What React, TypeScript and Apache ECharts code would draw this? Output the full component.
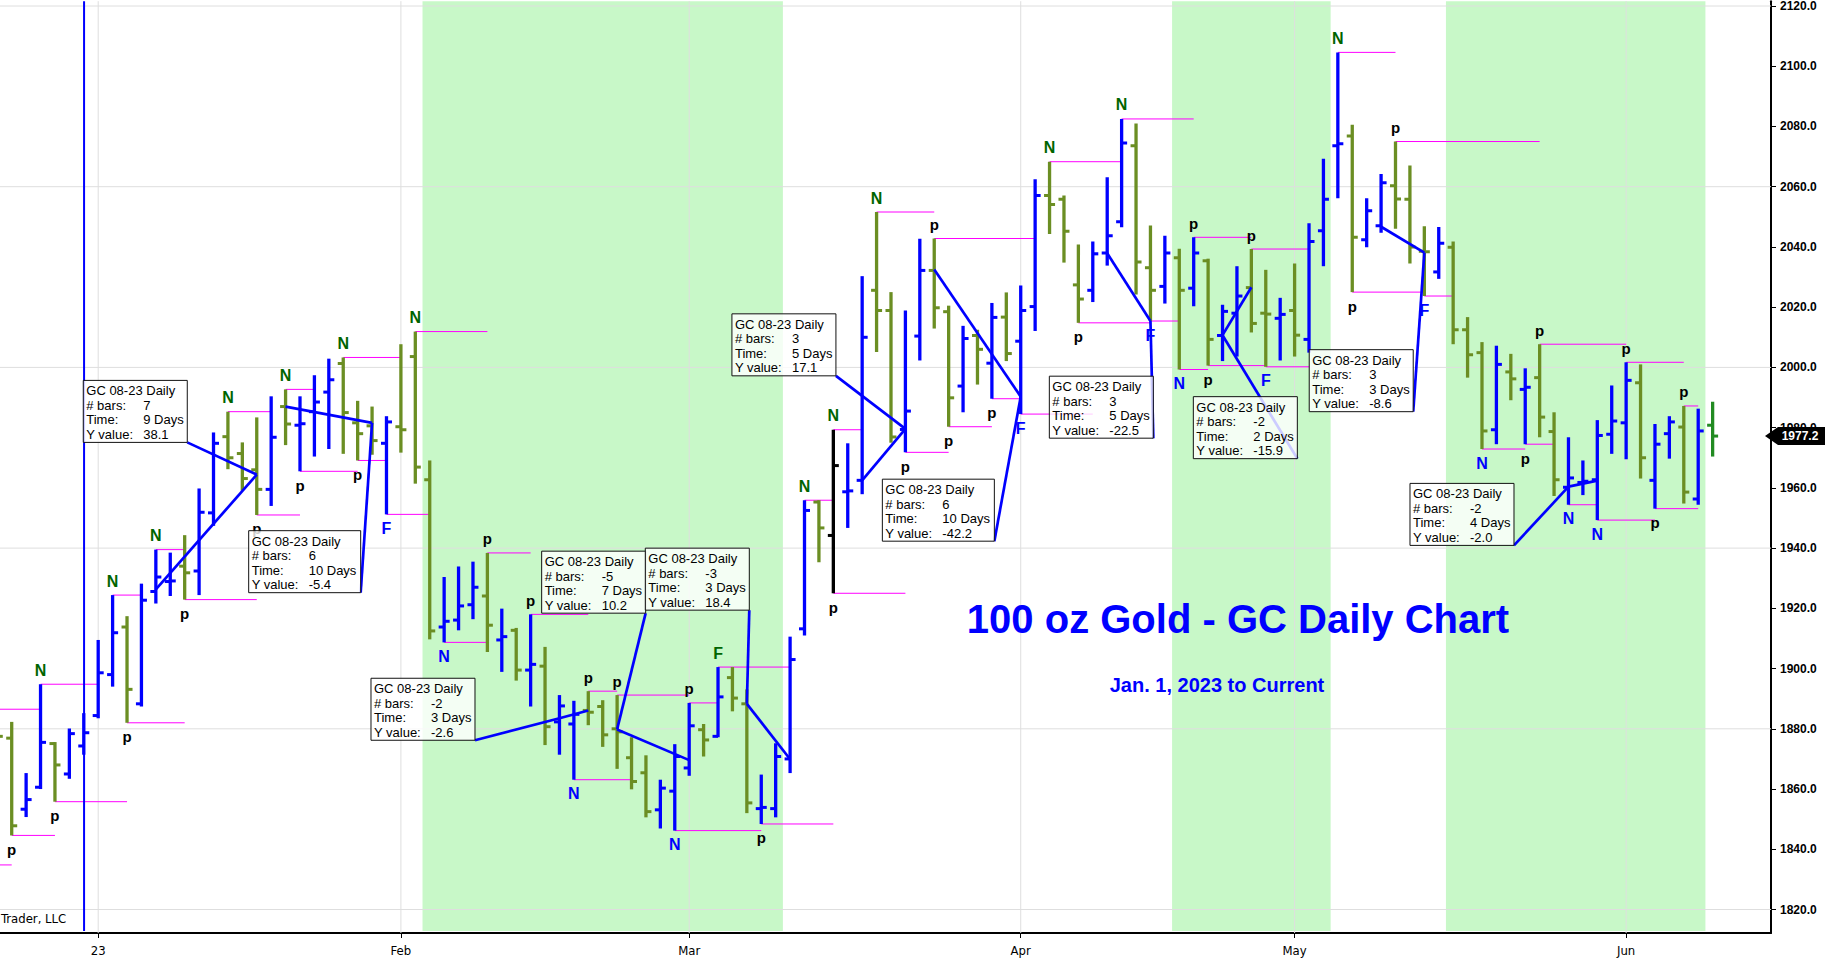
import React, { useEffect, useRef } from 'react';
import * as echarts from 'echarts';

// ---------- DATA ----------
const dates = [
  '2022-12-21', '2022-12-22', '2022-12-23', '2022-12-27', '2022-12-28', '2022-12-29', '2022-12-30',
  '2023-01-03', '2023-01-04', '2023-01-05', '2023-01-06', '2023-01-09', '2023-01-10', '2023-01-11', '2023-01-12', '2023-01-13',
  '2023-01-16', '2023-01-17', '2023-01-18', '2023-01-19', '2023-01-20', '2023-01-23', '2023-01-24', '2023-01-25', '2023-01-26',
  '2023-01-27', '2023-01-30', '2023-01-31',
  '2023-02-01', '2023-02-02', '2023-02-03', '2023-02-06', '2023-02-07', '2023-02-08', '2023-02-09', '2023-02-10', '2023-02-13',
  '2023-02-14', '2023-02-15', '2023-02-16', '2023-02-17', '2023-02-20', '2023-02-21', '2023-02-22', '2023-02-23', '2023-02-24',
  '2023-02-27', '2023-02-28',
  '2023-03-01', '2023-03-02', '2023-03-03', '2023-03-06', '2023-03-07', '2023-03-08', '2023-03-09', '2023-03-10', '2023-03-13',
  '2023-03-14', '2023-03-15', '2023-03-16', '2023-03-17', '2023-03-20', '2023-03-21', '2023-03-22', '2023-03-23', '2023-03-24',
  '2023-03-27', '2023-03-28', '2023-03-29', '2023-03-30', '2023-03-31',
  '2023-04-03', '2023-04-04', '2023-04-05', '2023-04-06', '2023-04-10', '2023-04-11', '2023-04-12', '2023-04-13', '2023-04-14',
  '2023-04-17', '2023-04-18', '2023-04-19', '2023-04-20', '2023-04-21', '2023-04-24', '2023-04-25', '2023-04-26', '2023-04-27',
  '2023-04-28',
  '2023-05-01', '2023-05-02', '2023-05-03', '2023-05-04', '2023-05-05', '2023-05-08', '2023-05-09', '2023-05-10', '2023-05-11',
  '2023-05-12', '2023-05-15', '2023-05-16', '2023-05-17', '2023-05-18', '2023-05-19', '2023-05-22', '2023-05-23', '2023-05-24',
  '2023-05-25', '2023-05-26', '2023-05-29', '2023-05-30', '2023-05-31',
  '2023-06-01', '2023-06-02', '2023-06-05', '2023-06-06', '2023-06-07', '2023-06-08', '2023-06-09',
];

const opens = [
  1880.0,
  1876.9, 1853.3, 1860.6, 1875.1, 1865.0, 1874.3, 1884.4, 1898.0, 1913.8, 1888.3,
  1925.6, 1928.9, 1934.0, 1932.4, 1951.7, 1977.0, 1971.4, 1966.0, 1959.5, 1987.0,
  1980.8, 1985.3, 1991.8, 2001.3, 1981.6, 1980.6, 1974.8, 1980.3, 2003.6, 1962.7,
  1913.8, 1916.1, 1921.2, 1924.1, 1909.5, 1912.7, 1899.5, 1900.8, 1882.3, 1881.6,
  1886.1, 1887.4, 1880.0, 1870.4, 1865.4, 1853.1, 1859.3, 1867.0, 1879.7, 1877.5,
  1897.0, 1888.3, 1853.5, 1853.5, 1870.0, 1913.2, 1955.3, 1944.2, 1958.7, 1962.5,
  2025.6, 2018.9, 1979.4, 2010.4, 2032.2, 2018.5, 1993.8, 2010.6, 2001.4, 2016.7,
  2008.7, 2020.2, 2057.1, 2055.8, 2027.4, 2025.6, 2038.0, 2048.4, 2073.6, 2033.1,
  2026.9, 2036.4, 2026.3, 2035.4, 2010.6, 2018.0, 2026.5, 2018.0, 2016.3, 2018.9,
  2009.3, 2045.4, 2073.6, 2076.8, 2042.4, 2047.0, 2060.3, 2055.8, 2038.6, 2031.7,
  2039.9, 2012.5, 2004.9, 1979.3, 1998.5, 1992.7, 1996.6, 1978.7, 1960.2, 1961.8,
  1962.7, 1977.8, 1981.6, 1994.9, 1962.5, 1978.0, 1980.2, 1956.3, 1980.8,
];
const highs = [
  1885.0,
  1882.3, 1865.3, 1894.8, 1875.6, 1880.1, 1885.2, 1909.5, 1924.4, 1917.4, 1928.2,
  1939.5, 1938.5, 1944.3, 1959.8, 1978.4, 1985.3, 1975.1, 1983.4, 1990.4, 1992.7,
  1990.4, 1997.4, 2002.9, 2003.3, 1988.9, 1987.0, 1983.8, 2007.7, 2011.9, 1969.1,
  1930.4, 1933.9, 1935.5, 1938.4, 1919.9, 1913.5, 1918.0, 1907.2, 1891.2, 1889.3,
  1892.5, 1889.5, 1891.2, 1877.2, 1871.2, 1863.1, 1874.9, 1888.6, 1881.6, 1900.5,
  1900.5, 1893.1, 1864.8, 1875.2, 1910.6, 1955.9, 1955.9, 1979.3, 1974.8, 2030.3,
  2051.6, 2025.0, 2018.9, 2042.7, 2042.8, 2020.5, 2013.8, 2012.5, 2021.4, 2024.9,
  2027.2, 2062.5, 2068.3, 2057.1, 2040.8, 2041.8, 2063.1, 2082.5, 2081.0, 2047.1,
  2043.7, 2039.4, 2043.2, 2036.1, 2020.8, 2033.6, 2039.3, 2032.4, 2023.1, 2034.5,
  2047.9, 2069.3, 2104.6, 2080.6, 2056.2, 2064.2, 2075.0, 2067.0, 2046.9, 2046.6,
  2041.8, 2016.7, 2008.4, 2007.2, 2004.5, 1999.7, 2007.7, 1985.1, 1976.8, 1969.1,
  1982.5, 1994.0, 2001.7, 2001.0, 1981.2, 1983.8, 1987.2, 1986.3, 1988.6,
];
const lows = [
  1871.0,
  1844.6, 1850.7, 1860.0, 1855.8, 1863.4, 1871.4, 1883.5, 1894.0, 1882.0, 1887.4,
  1921.6, 1924.1, 1922.9, 1924.4, 1947.4, 1966.2, 1959.1, 1951.0, 1954.0, 1974.2,
  1965.5, 1970.4, 1972.9, 1971.3, 1969.1, 1971.0, 1951.2, 1971.7, 1961.4, 1909.7,
  1908.7, 1912.7, 1916.4, 1905.5, 1898.9, 1896.0, 1887.4, 1874.6, 1871.4, 1863.1,
  1881.2, 1874.0, 1866.7, 1859.9, 1850.6, 1846.9, 1846.2, 1864.4, 1870.8, 1877.2,
  1885.8, 1852.0, 1848.4, 1850.6, 1865.3, 1911.0, 1935.3, 1925.0, 1946.7, 1957.9,
  2005.1, 1975.0, 1971.8, 2002.3, 2012.9, 1980.3, 1985.1, 1994.3, 1989.6, 2002.1,
  1984.5, 2012.1, 2044.3, 2034.8, 2014.8, 2021.7, 2033.8, 2046.5, 2024.2, 2015.4,
  2021.2, 1999.3, 2020.3, 2000.6, 2002.1, 2003.6, 2011.6, 2000.2, 2002.3, 2003.6,
  2004.9, 2033.6, 2056.2, 2025.0, 2039.9, 2044.7, 2046.0, 2034.5, 2023.7, 2029.4,
  2007.7, 1996.6, 1972.9, 1974.5, 1989.1, 1974.5, 1976.8, 1957.3, 1954.4, 1957.6,
  1949.3, 1971.3, 1969.5, 1963.1, 1953.1, 1969.7, 1954.8, 1954.4, 1970.4,
];
const closes = [
  1877.5,
  1847.8, 1856.5, 1875.5, 1868.0, 1878.4, 1878.7, 1898.6, 1911.9, 1893.1, 1922.7,
  1930.4, 1929.1, 1931.8, 1951.9, 1974.8, 1970.0, 1963.1, 1959.5, 1976.8, 1981.2,
  1981.3, 1988.5, 1995.9, 1985.0, 1978.0, 1975.7, 1981.9, 1979.3, 1966.9, 1912.5,
  1915.7, 1920.8, 1927.0, 1914.4, 1910.6, 1899.5, 1901.4, 1880.7, 1887.6, 1884.8,
  1885.5, 1878.0, 1879.0, 1862.5, 1852.5, 1860.3, 1870.8, 1881.0, 1876.3, 1890.6,
  1890.2, 1855.4, 1853.9, 1870.8, 1903.0, 1952.5, 1946.7, 1967.4, 1959.0, 2010.0,
  2018.9, 1976.9, 1985.5, 2032.2, 2019.8, 1989.9, 2009.6, 2006.0, 2016.6, 2004.6,
  2018.9, 2057.1, 2054.1, 2045.2, 2022.7, 2037.7, 2043.7, 2074.5, 2035.0, 2025.6,
  2038.0, 2025.6, 2038.0, 2009.3, 2018.6, 2023.7, 2014.6, 2017.7, 2017.6, 2010.7,
  2041.8, 2055.8, 2074.3, 2043.2, 2052.0, 2061.3, 2055.9, 2040.0, 2038.4, 2041.2,
  2012.5, 2004.2, 1978.9, 2001.0, 1996.2, 1993.4, 1983.5, 1962.7, 1963.3, 1962.2,
  1977.4, 1982.2, 1995.7, 1970.0, 1974.5, 1981.9, 1958.6, 1978.9, 1977.2,
];

// special-colored bars (by date)
const barColorOverrides: Record<string, string> = { '2023-03-15': '#000000', '2023-06-09': '#228B22' };
const lastPrice = 1977.2;

const priceTicks = [1820, 1840, 1860, 1880, 1900, 1920, 1940, 1960, 1980, 2000, 2020, 2040, 2060, 2080, 2100, 2120];
const priceGrid = [1820, 1880, 1940, 2000, 2060, 2120];
const monthNames = ['Jan', 'Feb', 'Mar', 'Apr', 'May', 'Jun', 'Jul', 'Aug', 'Sep', 'Oct', 'Nov', 'Dec'];

// shaded cycle windows [fromBar, toBar]
const shadeRanges = [[29.5, 54.5], [81.5, 92.5], [100.5, 118.5]];
const yearSeparatorIdx = 6.02;

// pivot lines [fromBar, toBar, price]
const pivotLines = [
  [0, 3, 1886.5], [0, 1, 1834.8], [1, 4, 1844.6], [3, 7, 1894.8], [4, 9, 1855.8], [8, 10, 1924.4], [9, 13, 1882.0],
  [11, 13, 1939.5], [13, 18, 1922.9], [16, 19, 1985.3], [18, 21, 1951.0], [20, 22, 1992.7], [21, 25, 1965.5],
  [24, 28, 2003.3], [25, 27, 1969.1], [27, 30, 1951.2], [29, 34, 2011.9], [31, 34, 1908.7], [34, 37, 1938.4],
  [37, 41, 1918.0], [40, 44, 1863.1], [41, 43, 1892.5], [43, 48, 1891.2], [47, 53, 1846.2], [48, 50, 1888.6],
  [50, 55, 1900.5], [53, 58, 1848.4], [56, 58, 1955.9], [58, 60, 1979.3], [58, 63, 1925.0], [61, 65, 2051.6],
  [63, 66, 1971.8], [65, 72, 2042.8], [66, 69, 1980.3], [69, 71, 1989.6], [71, 76, 1984.5], [73, 78, 2068.3],
  [75, 80, 2014.8], [78, 83, 2082.5], [80, 82, 2015.4], [82, 84, 1999.3], [83, 87, 2043.2], [84, 88, 2000.6],
  [87, 91, 2039.3], [88, 91, 2000.2], [93, 97, 2104.6], [94, 99, 2025.0], [97, 107, 2075.0], [99, 101, 2023.7],
  [103, 106, 1972.9], [106, 108, 1974.5], [107, 113, 2007.7], [109, 111, 1954.4], [111, 115, 1949.3],
  [113, 117, 2001.7], [115, 118, 1953.1], [117, 118, 1987.2],
];

// swing markers [bar, label, 't' above high / 'b' below low, color key]
const markers: [number, string, string, string][] = [
  [1, 'p', 'b', 'k'], [3, 'N', 't', 'g'], [4, 'p', 'b', 'k'], [8, 'N', 't', 'g'], [9, 'p', 'b', 'k'], [11, 'N', 't', 'g'],
  [13, 'p', 'b', 'k'], [16, 'N', 't', 'g'], [18, 'p', 'b', 'k'], [20, 'N', 't', 'g'], [21, 'p', 'b', 'k'], [24, 'N', 't', 'g'],
  [25, 'p', 'b', 'k'], [27, 'F', 'b', 'b'], [29, 'N', 't', 'g'], [31, 'N', 'b', 'b'], [34, 'p', 't', 'k'], [37, 'p', 't', 'k'],
  [40, 'N', 'b', 'b'], [41, 'p', 't', 'k'], [43, 'p', 't', 'k'], [47, 'N', 'b', 'b'], [48, 'p', 't', 'k'], [50, 'F', 't', 'g'],
  [53, 'p', 'b', 'k'], [56, 'N', 't', 'g'], [58, 'N', 't', 'g'], [58, 'p', 'b', 'k'], [61, 'N', 't', 'g'], [63, 'p', 'b', 'k'],
  [65, 'p', 't', 'k'], [66, 'p', 'b', 'k'], [69, 'p', 'b', 'k'], [71, 'F', 'b', 'b'], [73, 'N', 't', 'g'], [75, 'p', 'b', 'k'],
  [78, 'N', 't', 'g'], [80, 'F', 'b', 'b'], [82, 'N', 'b', 'b'], [83, 'p', 't', 'k'], [84, 'p', 'b', 'k'], [87, 'p', 't', 'k'],
  [88, 'F', 'b', 'b'], [93, 'N', 't', 'g'], [94, 'p', 'b', 'k'], [97, 'p', 't', 'k'], [99, 'F', 'b', 'b'], [103, 'N', 'b', 'b'],
  [106, 'p', 'b', 'k'], [107, 'p', 't', 'k'], [109, 'N', 'b', 'b'], [111, 'N', 'b', 'b'], [113, 'p', 't', 'k'], [115, 'p', 'b', 'k'],
  [117, 'p', 't', 'k'],
];

// measurement annotations: a = start, b = end, box = bottom-right corner of text box (bar, price)
const annotations = [
  { a: [11, 1926.3], b: [18, 1964.4], box: [13.18, 1975.1], bars: '7', time: '9 Days', yv: '38.1' },
  { a: [20, 1987.0], b: [26, 1981.6], box: [25.21, 1925.2], bars: '6', time: '10 Days', yv: '-5.4' },
  { a: [41, 1886.1], b: [39, 1883.5], box: [33.14, 1876.2], bars: '-2', time: '3 Days', yv: '-2.6' },
  { a: [48, 1869.6], b: [43, 1879.8], box: [44.98, 1918.4], bars: '-5', time: '7 Days', yv: '10.2' },
  { a: [55, 1869.9], b: [52, 1888.3], box: [52.17, 1919.4], bars: '-3', time: '3 Days', yv: '18.4' },
  { a: [60, 1962.5], b: [63, 1979.6], box: [58.18, 1997.2], bars: '3', time: '5 Days', yv: '17.1' },
  { a: [65, 2032.5], b: [71, 1990.3], box: [69.17, 1942.3], bars: '6', time: '10 Days', yv: '-42.2' },
  { a: [77, 2037.9], b: [80, 2015.4], box: [80.2, 1976.5], bars: '3', time: '5 Days', yv: '-22.5' },
  { a: [87, 2026.6], b: [85, 2010.7], box: [90.19, 1969.7], bars: '-2', time: '2 Days', yv: '-15.9' },
  { a: [96, 2046.7], b: [99, 2038.1], box: [98.23, 1985.3], bars: '3', time: '3 Days', yv: '-8.6' },
  { a: [111, 1962.4], b: [109, 1960.4], box: [105.22, 1940.9], bars: '-2', time: '4 Days', yv: '-2.0' },
];
const boxTitle = 'GC 08-23 Daily';
const boxLabels = ['# bars:', 'Time:', 'Y value:'];

// ---------- STYLE ----------
const X_MIN = 0.188;
const X_MAX = 123.05;
const Y_MIN = 1812.2;
const Y_MAX = 2121.6;
const UP = '#0000FF';
const DOWN = '#6B8E23';
const SANS = '"Liberation Sans", Arial, Helvetica, sans-serif';
const NARROW = '"Liberation Sans Narrow", "DejaVu Sans Condensed", "Liberation Sans", sans-serif';
const BOX_FONT = `13px ${SANS}`;
const markerColors: Record<string, string> = { g: '#006400', b: '#0000FF', k: '#000000' };

const monthStarts: number[] = [];
for (let i = 1; i < dates.length; i++) {
  if (dates[i].slice(0, 7) !== dates[i - 1].slice(0, 7)) monthStarts.push(i);
}
const monthLabel = (v: number) => {
  const d = dates[Math.round(v)];
  if (!d) return '';
  const m = parseInt(d.slice(5, 7), 10);
  return m === 1 ? d.slice(2, 4) : monthNames[m - 1];
};

let measureCtx: CanvasRenderingContext2D | null = null;
const textWidth = (s: string) => {
  if (!measureCtx) {
    const c = document.createElement('canvas');
    measureCtx = c.getContext('2d');
  }
  if (!measureCtx) return s.length * 7;
  measureCtx.font = BOX_FONT;
  return measureCtx.measureText(s).width;
};

export default function App() {
  const ref = useRef<HTMLDivElement>(null);
  useEffect(() => {
    if (!ref.current) return;
    const chart = echarts.init(ref.current, undefined, { renderer: 'svg' });
    const barData = dates.map((d, i) => [i, opens[i], highs[i], lows[i], closes[i]]);

    const option: any = {
      animation: false,
      grid: { left: 0, right: 56, top: 0, bottom: 27, containLabel: false },
      xAxis: {
        type: 'value', min: X_MIN, max: X_MAX,
        axisLine: { show: true, onZero: false, lineStyle: { color: '#000', width: 2 } },
        axisTick: { show: true, customValues: monthStarts, length: 5, lineStyle: { color: '#000', width: 1 } },
        axisLabel: { show: true, customValues: monthStarts, formatter: (v: number) => monthLabel(v), color: '#000', fontFamily: NARROW, fontSize: 13, margin: 11 },
        splitLine: { show: false },
      },
      yAxis: {
        type: 'value', position: 'right', min: Y_MIN, max: Y_MAX,
        axisLine: { show: true, lineStyle: { color: '#000', width: 2 } },
        axisTick: { show: true, inside: false, customValues: priceTicks, length: 5, lineStyle: { color: '#000', width: 1 } },
        axisLabel: { show: true, customValues: priceTicks, formatter: (v: number) => v.toFixed(1), color: '#000', fontWeight: 'bold', fontSize: 12, fontFamily: SANS, margin: 9 },
        splitLine: { show: false },
      },
      graphic: [
        { type: 'text', z: 100, x: 1238, y: 619, style: { text: '100 oz Gold - GC Daily Chart', fill: '#0000FF', font: `bold 40px ${SANS}`, align: 'center', verticalAlign: 'middle' } },
        { type: 'text', z: 100, x: 1217, y: 685, style: { text: 'Jan. 1, 2023 to Current', fill: '#0000FF', font: `bold 20px ${SANS}`, align: 'center', verticalAlign: 'middle' } },
        { type: 'text', z: 100, x: 1, y: 918, style: { text: 'Trader, LLC', fill: '#000', font: `13px ${NARROW}`, align: 'left', verticalAlign: 'middle' } },
      ],
      series: [
        {
          type: 'custom', name: 'shade', z: 1, silent: true,
          data: shadeRanges.map((r) => [r[0], Y_MIN, r[1]]),
          renderItem: (p: any, api: any) => {
            const s = api.coord([api.value(0), Y_MIN]);
            const e = api.coord([api.value(2), Y_MIN]);
            const cs = p.coordSys;
            return { type: 'rect', shape: { x: s[0], y: cs.y, width: e[0] - s[0], height: cs.height - 2 }, style: { fill: '#C8F8C8' } };
          },
        },
        {
          type: 'custom', name: 'vgrid', z: 2, silent: true,
          data: monthStarts.map((i) => [i, Y_MIN]),
          renderItem: (p: any, api: any) => {
            const pt = api.coord([api.value(0), Y_MIN]);
            const cs = p.coordSys;
            return { type: 'line', shape: { x1: pt[0], y1: cs.y, x2: pt[0], y2: cs.y + cs.height }, style: { stroke: '#DEDEDE', lineWidth: 1 } };
          },
        },
        {
          type: 'custom', name: 'hgrid', z: 2, silent: true,
          data: priceGrid.map((v) => [X_MIN, v]),
          renderItem: (p: any, api: any) => {
            const pt = api.coord([X_MIN, api.value(1)]);
            const cs = p.coordSys;
            return { type: 'line', shape: { x1: cs.x, y1: pt[1], x2: cs.x + cs.width, y2: pt[1] }, style: { stroke: '#DEDEDE', lineWidth: 1 } };
          },
        },
        {
          type: 'custom', name: 'pivots', z: 3, silent: true, clip: true,
          data: pivotLines.map((l) => [l[0], l[2], l[1]]),
          renderItem: (p: any, api: any) => {
            const s = api.coord([api.value(0), api.value(1)]);
            const e = api.coord([api.value(2), api.value(1)]);
            return { type: 'line', shape: { x1: s[0], y1: s[1], x2: e[0], y2: e[1] }, style: { stroke: '#FF00FF', lineWidth: 1 } };
          },
        },
        {
          type: 'custom', name: 'yearline', z: 4, silent: true,
          data: [[yearSeparatorIdx, Y_MIN]],
          renderItem: (p: any, api: any) => {
            const pt = api.coord([api.value(0), Y_MIN]);
            const cs = p.coordSys;
            return { type: 'line', shape: { x1: pt[0], y1: cs.y, x2: pt[0], y2: cs.y + cs.height - 2 }, style: { stroke: '#0000FF', lineWidth: 2 } };
          },
        },
        {
          type: 'custom', name: 'GC', z: 5, clip: true,
          data: barData,
          renderItem: (p: any, api: any) => {
            const i = api.value(0);
            const o = api.value(1), h = api.value(2), l = api.value(3), c = api.value(4);
            const pH = api.coord([i, h]);
            const pL = api.coord([i, l]);
            const pO = api.coord([i, o]);
            const pC = api.coord([i, c]);
            const ov = barColorOverrides[dates[p.dataIndex]];
            const color = ov || (c >= o ? UP : DOWN);
            return {
              type: 'group',
              children: [
                { type: 'line', shape: { x1: pH[0], y1: pH[1], x2: pL[0], y2: pL[1] }, style: { stroke: color, lineWidth: 3.3 } },
                { type: 'line', shape: { x1: pO[0] - 5.5, y1: pO[1], x2: pO[0], y2: pO[1] }, style: { stroke: color, lineWidth: 3 } },
                { type: 'line', shape: { x1: pC[0], y1: pC[1], x2: pC[0] + 5.5, y2: pC[1] }, style: { stroke: color, lineWidth: 3 } },
              ],
            };
          },
        },
        {
          type: 'custom', name: 'markers', z: 6, silent: true,
          data: markers.map((m) => [m[0], m[2] === 't' ? highs[m[0]] : lows[m[0]]]),
          renderItem: (p: any, api: any) => {
            const m = markers[p.dataIndex];
            const pt = api.coord([api.value(0), api.value(1)]);
            const dy = m[2] === 't' ? -14 : 14;
            const size = m[1] === 'p' ? 15 : 16;
            return {
              type: 'text',
              style: { text: m[1], x: pt[0], y: pt[1] + dy, fill: markerColors[m[3]], font: `bold ${size}px ${SANS}`, align: 'center', verticalAlign: 'middle' },
            };
          },
        },
        {
          type: 'custom', name: 'measure', z: 6, silent: true,
          data: annotations.map((a) => [a.b[0], a.b[1]]),
          renderItem: (p: any, api: any) => {
            const a = annotations[p.dataIndex];
            const pa = api.coord(a.a);
            const pb = api.coord(a.b);
            const pc = api.coord(a.box);
            return {
              type: 'group',
              children: [
                { type: 'line', shape: { x1: pa[0], y1: pa[1], x2: pb[0], y2: pb[1] }, style: { stroke: '#0000FF', lineWidth: 2.7 } },
                { type: 'line', shape: { x1: pb[0], y1: pb[1], x2: pc[0], y2: pc[1] }, style: { stroke: '#0000FF', lineWidth: 2.7 } },
              ],
            };
          },
        },
        {
          type: 'custom', name: 'boxes', z: 7, silent: true,
          data: annotations.map((a) => [a.box[0], a.box[1]]),
          renderItem: (p: any, api: any) => {
            const a = annotations[p.dataIndex];
            const pc = api.coord(a.box);
            const values = [a.bars, a.time, a.yv];
            const colX = 57;
            let inner = textWidth(boxTitle);
            values.forEach((v) => { inner = Math.max(inner, colX + textWidth(v)); });
            const W = Math.round(inner + 7);
            const H = 62;
            const left = pc[0] - W;
            const top = pc[1] - H;
            const lh = 14.5;
            const children: any[] = [
              { type: 'rect', shape: { x: left, y: top, width: W, height: H }, style: { fill: 'rgba(255,255,255,0.8)', stroke: '#111', lineWidth: 1 } },
              { type: 'text', style: { text: boxTitle, x: left + 3, y: top + 10.5, fill: '#000', font: BOX_FONT, align: 'left', verticalAlign: 'middle' } },
            ];
            boxLabels.forEach((lab, k) => {
              const y = top + 10.5 + (k + 1) * lh;
              children.push({ type: 'text', style: { text: lab, x: left + 3, y, fill: '#000', font: BOX_FONT, align: 'left', verticalAlign: 'middle' } });
              children.push({ type: 'text', style: { text: values[k], x: left + 3 + colX, y, fill: '#000', font: BOX_FONT, align: 'left', verticalAlign: 'middle' } });
            });
            return { type: 'group', children };
          },
        },
        {
          type: 'custom', name: 'tag', z: 8, silent: true, clip: false,
          data: [[dates.length - 1, lastPrice]],
          renderItem: (p: any, api: any) => {
            const pt = api.coord([api.value(0), api.value(1)]);
            const cs = p.coordSys;
            const xr = cs.x + cs.width;
            const y = pt[1];
            return {
              type: 'group',
              children: [
                { type: 'polygon', shape: { points: [[xr - 6, y], [xr + 7, y - 9], [xr + 54, y - 9], [xr + 54, y + 9], [xr + 7, y + 9]] }, style: { fill: '#000' } },
                { type: 'text', style: { text: lastPrice.toFixed(1), x: xr + 29, y, fill: '#fff', font: `bold 12px ${SANS}`, align: 'center', verticalAlign: 'middle' } },
              ],
            };
          },
        },
      ],
    };
    chart.setOption(option);
    return () => chart.dispose();
  }, []);
  return <div ref={ref} style={{ position: 'fixed', left: 0, top: 0, width: 1827, height: 960, background: '#fff' }} />;
}
